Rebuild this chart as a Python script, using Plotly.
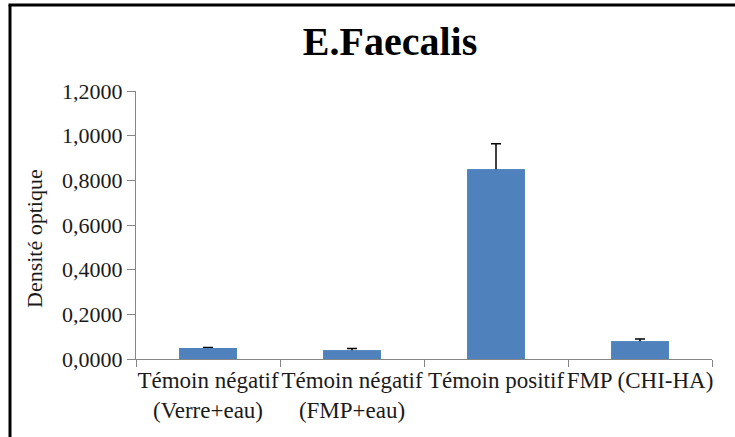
import plotly.graph_objects as go

# Optical density per condition (E. faecalis)
categories = [
    "Témoin négatif<br>(Verre+eau)",
    "Témoin négatif<br>(FMP+eau)",
    "Témoin positif",
    "FMP (CHI-HA)",
]
densite = [0.049, 0.039, 0.850, 0.079]
erreur = [0.003, 0.008, 0.114, 0.011]
y_titre = "Densité optique"

W, H = 735, 437
ML, MR, MT, MB = 136, 23, 91, 78
PW, PH = W - ML - MR, H - MT - MB


def px_x(x):
    return (x - ML) / PW


def px_y(y):
    return 1 - (y - MT) / PH


serif = "Times New Roman, Liberation Serif, DejaVu Serif, serif"
axis_grey = "#868686"
text_col = "#1a1a1a"
bar_col = "#4F81BD"

fig = go.Figure()

# Bars with error bars, then the same bars again on top so only the
# upper half of each error bar stays visible
fig.add_trace(
    go.Bar(
        x=categories,
        y=densite,
        marker=dict(color=bar_col, line=dict(width=0)),
        error_y=dict(
            type="data",
            array=erreur,
            color="black",
            thickness=1.5,
            width=5,
        ),
    )
)
fig.add_trace(
    go.Bar(
        x=categories,
        y=densite,
        marker=dict(color=bar_col, line=dict(width=0)),
        hoverinfo="skip",
    )
)

fig.update_layout(
    width=W,
    height=H,
    margin=dict(l=ML, r=MR, t=MT, b=MB, autoexpand=False),
    paper_bgcolor="white",
    plot_bgcolor="white",
    separators=", ",
    barmode="overlay",
    bargap=0.6,
    showlegend=False,
    font=dict(family=serif, color=text_col, size=22),
    title=dict(
        text="<b>E.Faecalis</b>",
        font=dict(family=serif, size=40, color="black"),
        x=390 / W,
        xanchor="center",
        xref="container",
        y=1 - 41 / H,
        yanchor="middle",
        yref="container",
    ),
    xaxis=dict(
        showline=True,
        linecolor=axis_grey,
        linewidth=1,
        ticks="outside",
        tickson="boundaries",
        ticklen=7,
        tickcolor=axis_grey,
        tickangle=0,
        automargin=False,
        tickfont=dict(family=serif, size=23, color=text_col),
        showgrid=False,
    ),
    yaxis=dict(
        range=[0, 1.2],
        dtick=0.2,
        tickformat=".4f",
        showline=True,
        linecolor=axis_grey,
        linewidth=1,
        ticks="outside",
        ticklen=8,
        tickcolor=axis_grey,
        automargin=False,
        tickfont=dict(family=serif, size=22, color=text_col),
        showgrid=False,
        zeroline=False,
    ),
)

# Y-axis title, rotated
fig.add_annotation(
    text=y_titre,
    xref="paper", yref="paper",
    x=px_x(34), y=px_y(239),
    xanchor="center", yanchor="middle",
    textangle=-90,
    showarrow=False,
    font=dict(family=serif, size=22, color=text_col),
)

# Frame edges along the left and top of the chart area
fig.add_shape(
    type="line", xref="paper", yref="paper",
    x0=px_x(10), x1=px_x(10), y0=px_y(5), y1=px_y(H + 5),
    line=dict(color="black", width=3),
)
fig.add_shape(
    type="line", xref="paper", yref="paper",
    x0=px_x(8.5), x1=px_x(W + 5), y0=px_y(5), y1=px_y(5),
    line=dict(color="black", width=3),
)

fig.write_html("out.html")
